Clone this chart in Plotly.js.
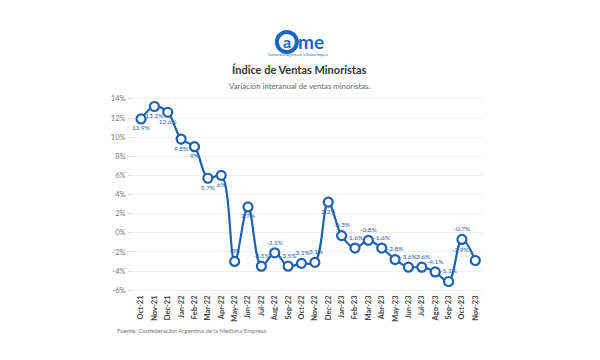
<!DOCTYPE html>
<html>
<head>
<meta charset="utf-8">
<script src="https://cdn.plot.ly/plotly-3.0.1.min.js"></script>
<style>html,body{margin:0;padding:0;background:#fff;}#chart{width:600px;height:360px;}</style>
</head>
<body>
<div id="chart"></div>
<script>
const months = ["Oct-21","Nov-21","Dec-21","Jan-22","Feb-22","Mar-22","Apr-22","May-22","Jun-22","Jul-22","Aug-22","Sep-22","Oct-22","Nov-22","Dec-22","Jan-23","Feb-23","Mar-23","Abr-23","May-23","Jun-23","Jul-23","Ago-23","Sep-23","Oct-23","Nov-23"];
const values = [11.9,13.2,12.6,9.8,9,5.7,6,-3,2.7,-3.5,-2.1,-3.5,-3.2,-3.1,3.2,-0.3,-1.6,-0.8,-1.6,-2.8,-3.6,-3.6,-4.1,-5.1,-0.7,-2.9];
const yTicks = [-6,-4,-2,0,2,4,6,8,10,12,14];
const yTickLabels = ["-6%","-4%","-2%","0%","2%","4%","6%","8%","10%","12%","14%"];

const blue = "#1f62ad";
const logoBlue = "#1766c2";
const idx = months.map((m,i)=>i);
const labels = values.map(v => v + "%");
const positions = values.map((v,i) => i === values.length-1 ? "top left" : (v > 0 ? "bottom center" : "top center"));

const trace = {
  x: idx, y: values, type: "scatter", mode: "lines+markers+text",
  line: {color: blue, width: 2.2, shape: "spline", smoothing: 1},
  marker: {size: 9, color: "#ffffff", line: {color: blue, width: 2.2}},
  text: labels, textposition: positions,
  textfont: {family: "Lato, 'Open Sans', sans-serif", size: 6.5, color: blue},
  cliponaxis: false, hoverinfo: "skip"
};

const layout = {
  width: 600, height: 360,
  margin: {l: 133, r: 118, t: 96, b: 67},
  paper_bgcolor: "#ffffff", plot_bgcolor: "#ffffff",
  showlegend: false,
  font: {family: "Lato, 'Open Sans', sans-serif"},
  xaxis: {
    range: [-0.6, 25.5], tickmode: "array", tickvals: idx,
    ticktext: months.map(m => "<b>" + m + "</b>"),
    tickangle: -90, tickfont: {size: 7.5, color: "#444"},
    showgrid: false, zeroline: false, showline: false, ticks: "", fixedrange: true
  },
  yaxis: {
    range: [-6.3, 14.3], tickmode: "array", tickvals: yTicks, ticktext: yTickLabels,
    tickfont: {size: 7.5, color: "#777"},
    showgrid: true, gridcolor: "#efefef", gridwidth: 1, zeroline: false, showline: false,
    ticks: "outside", ticklen: 4, tickcolor: "#dddddd", ticklabelstandoff: 1
  },
  annotations: [
    {xref: "paper", yref: "paper", x: 0.478, y: 1.0, yshift: 27, xanchor: "center", yanchor: "middle",
     text: "<b>Índice de Ventas Minoristas</b>", showarrow: false,
     font: {size: 11, color: "#333333", family: "Lato, 'Open Sans', sans-serif"}},
    {xref: "paper", yref: "paper", x: 0.478, y: 1.0, yshift: 10, xanchor: "center", yanchor: "middle",
     text: "Variación interanual de ventas minoristas.", showarrow: false,
     font: {size: 7.8, color: "#666666", family: "Lato, 'Open Sans', sans-serif"}},
    {xref: "paper", yref: "paper", x: 0.441, y: 1.0, yshift: 55, xanchor: "center", yanchor: "middle",
     text: "<b>a</b>", showarrow: false,
     font: {size: 16, color: logoBlue, family: "Lato, sans-serif"}},
    {xref: "paper", yref: "paper", x: 0.468, y: 1.0, yshift: 55, xanchor: "left", yanchor: "middle",
     text: "<b>me</b>", showarrow: false,
     font: {size: 19, color: logoBlue, family: "Lato, sans-serif"}},
    {xref: "paper", yref: "paper", x: 0.472, y: 1.0, yshift: 41, xanchor: "center", yanchor: "middle",
     text: "Confederación Argentina de la Mediana Empresa", showarrow: false,
     font: {size: 2.8, color: logoBlue, family: "Lato, sans-serif"}},
    {xref: "paper", yref: "paper", x: -0.052, y: 0, yshift: -37, xanchor: "left", yanchor: "middle",
     text: "Fuente: Confederación Argentina de la Mediana Empresa", showarrow: false,
     font: {size: 6, color: "#777777", family: "Lato, 'Open Sans', sans-serif"}}
  ],
  shapes: [
    {type: "circle", xref: "paper", yref: "paper", xsizemode: "pixel", ysizemode: "pixel",
     xanchor: 0.441, yanchor: 1.0, x0: -10, x1: 10, y0: 44, y1: 64,
     line: {color: logoBlue, width: 4}, fillcolor: "rgba(0,0,0,0)"}
  ]
};

Plotly.newPlot("chart", [trace], layout, {displayModeBar: false, staticPlot: true});
</script>
</body>
</html>
